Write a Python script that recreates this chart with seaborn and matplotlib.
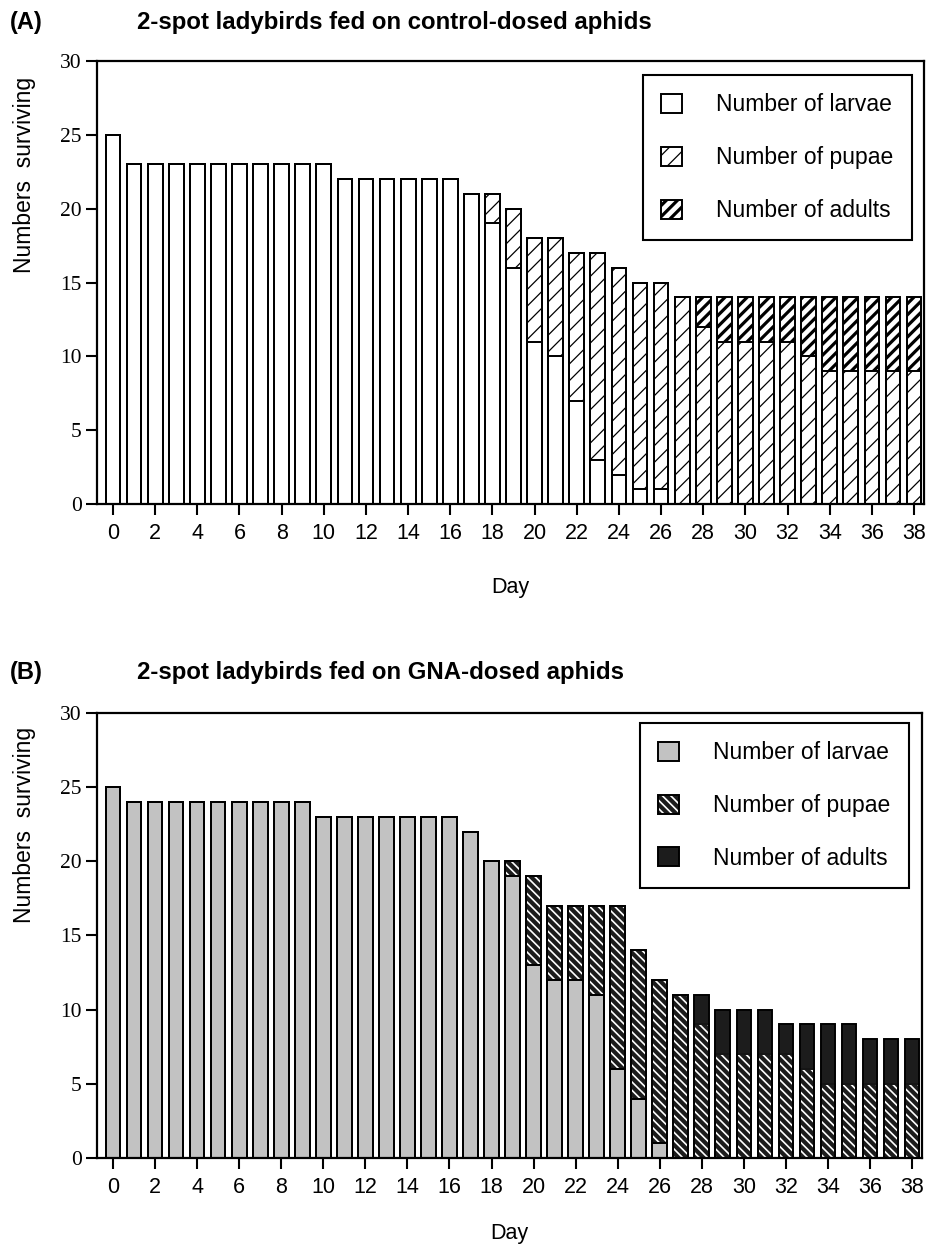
import numpy as np
import pandas as pd
import seaborn as sns
import matplotlib.pyplot as plt
from matplotlib.patches import Patch

# ---------------------------------------------------------
# Data (days 0..38)
# ---------------------------------------------------------
days = list(range(39))

# (A) control-dosed aphids
a_larvae = [25, 23, 23, 23, 23, 23, 23, 23, 23, 23, 23, 22, 22, 22, 22, 22, 22, 21, 19,
            16, 11, 10, 7, 3, 2, 1, 1, 0, 0, 0, 0, 0, 0, 0, 0, 0, 0, 0, 0]
a_pupae = [0, 0, 0, 0, 0, 0, 0, 0, 0, 0, 0, 0, 0, 0, 0, 0, 0, 0, 2,
           4, 7, 8, 10, 14, 14, 14, 14, 14, 12, 11, 11, 11, 11, 10, 9, 9, 9, 9, 9]
a_adults = [0, 0, 0, 0, 0, 0, 0, 0, 0, 0, 0, 0, 0, 0, 0, 0, 0, 0, 0,
            0, 0, 0, 0, 0, 0, 0, 0, 0, 2, 3, 3, 3, 3, 4, 5, 5, 5, 5, 5]

# (B) GNA-dosed aphids
b_larvae = [25, 24, 24, 24, 24, 24, 24, 24, 24, 24, 23, 23, 23, 23, 23, 23, 23, 22, 20,
            19, 13, 12, 12, 11, 6, 4, 1, 0, 0, 0, 0, 0, 0, 0, 0, 0, 0, 0, 0]
b_pupae = [0, 0, 0, 0, 0, 0, 0, 0, 0, 0, 0, 0, 0, 0, 0, 0, 0, 0, 0,
           1, 6, 5, 5, 6, 11, 10, 11, 11, 9, 7, 7, 7, 7, 6, 5, 5, 5, 5, 5]
b_adults = [0, 0, 0, 0, 0, 0, 0, 0, 0, 0, 0, 0, 0, 0, 0, 0, 0, 0, 0,
            0, 0, 0, 0, 0, 0, 0, 0, 0, 2, 3, 3, 3, 2, 3, 4, 4, 3, 3, 3]

legend_labels = ["Number of larvae", "Number of pupae", "Number of adults"]
title_a = "2-spot ladybirds fed on control-dosed aphids"
title_b = "2-spot ladybirds fed on GNA-dosed aphids"


def make_df(larvae, pupae, adults):
    df = pd.DataFrame({"day": days, "larvae": larvae, "pupae": pupae, "adults": adults})
    df["lp"] = df["larvae"] + df["pupae"]
    df["total"] = df["lp"] + df["adults"]
    return df


df_a = make_df(a_larvae, a_pupae, a_adults)
df_b = make_df(b_larvae, b_pupae, b_adults)

# ---------------------------------------------------------
# Styling
# ---------------------------------------------------------
sns.set_style("ticks")
plt.rcParams["font.family"] = ["Liberation Sans", "DejaVu Sans"]
plt.rcParams["hatch.linewidth"] = 1.0
for k in ["text.color", "axes.labelcolor", "xtick.color", "ytick.color", "axes.edgecolor"]:
    plt.rcParams[k] = "black"

ADULT_HATCH, ADULT_HLW = "///", 2.3
PUPA_HATCH, PUPA_HLW = "//", 0.9
GNA_HATCH, GNA_HLW = "\\\\\\\\", 1.2
GREY, DARK = "#c2c2c2", "#1c1c1c"


def set_hlw(p, w):
    if hasattr(p, "set_hatch_linewidth"):
        p.set_hatch_linewidth(w)


def draw_layer(ax, df, col, face, hcol, hatch, hlw):
    n0 = len(ax.patches)
    sns.barplot(data=df, x="day", y=col, native_scale=True, width=0.7,
                color=face, saturation=1, edgecolor=hcol, linewidth=1.2,
                errorbar=None, ax=ax)
    for p in ax.patches[n0:]:
        p.set_facecolor(face)
        p.set_edgecolor(hcol)
        if hatch:
            p.set_hatch(hatch)
            set_hlw(p, hlw)


def outline(ax, df, col):
    sns.barplot(data=df, x="day", y=col, native_scale=True, width=0.7,
                fill=False, color="black", linewidth=1.3, errorbar=None, ax=ax)


def style_axes(ax):
    ax.set_xlim(-0.76, 38.47)
    ax.set_ylim(0, 30)
    ax.set_xticks(range(0, 39, 2))
    ax.set_yticks(range(0, 31, 5))
    for s in ax.spines.values():
        s.set_visible(True)
        s.set_linewidth(1.6)
        s.set_color("black")
    ax.tick_params(direction="out", length=8, width=1.5, colors="black")
    ax.tick_params(axis="x", labelsize=15.5, pad=6)
    ax.tick_params(axis="y", labelsize=15.5, pad=3)
    for t in ax.get_yticklabels():
        t.set_fontfamily("Liberation Serif")
    ax.set_ylabel("")
    ax.set_xlabel("Day", fontsize=15.5)


def add_legend(ax, handles, anchor):
    leg = ax.legend(handles, legend_labels, loc="upper right", bbox_to_anchor=anchor,
                    borderaxespad=0, fontsize=16.5, labelspacing=1.3, handlelength=0.9,
                    handleheight=0.9, handletextpad=1.5, borderpad=0.8,
                    fancybox=False, framealpha=1, edgecolor="black")
    leg.get_frame().set_linewidth(1.5)
    return leg


fig = plt.figure(figsize=(9.3, 12.47), dpi=100)
ax_a = fig.add_axes([0.1043, 0.5958, 0.8892, 0.3553])
ax_b = fig.add_axes([0.1043, 0.0714, 0.8871, 0.3569])

# ---------------------------------------------------------
# Panel A
# ---------------------------------------------------------
draw_layer(ax_a, df_a, "total", "white", "black", ADULT_HATCH, ADULT_HLW)
draw_layer(ax_a, df_a, "lp", "white", "black", PUPA_HATCH, PUPA_HLW)
draw_layer(ax_a, df_a, "larvae", "white", "black", None, 1.0)
for c in ["total", "lp", "larvae"]:
    outline(ax_a, df_a, c)
style_axes(ax_a)
ax_a.xaxis.set_label_coords(0.5, -0.165)

h_a = [Patch(facecolor="white", edgecolor="black", linewidth=1.4),
       Patch(facecolor="white", edgecolor="black", hatch=PUPA_HATCH, linewidth=1.4),
       Patch(facecolor="white", edgecolor="black", hatch=ADULT_HATCH, linewidth=1.4)]
leg = add_legend(ax_a, h_a, (0.9855, 0.968))
lh = leg.legend_handles
set_hlw(lh[1], PUPA_HLW)
set_hlw(lh[2], ADULT_HLW)

# ---------------------------------------------------------
# Panel B
# ---------------------------------------------------------
draw_layer(ax_b, df_b, "total", DARK, DARK, None, 1.0)
draw_layer(ax_b, df_b, "lp", DARK, "white", GNA_HATCH, GNA_HLW)
draw_layer(ax_b, df_b, "larvae", GREY, "black", None, 1.0)
for c in ["total", "lp", "larvae"]:
    outline(ax_b, df_b, c)
style_axes(ax_b)
ax_b.xaxis.set_label_coords(0.5, -0.146)

pupae_fill = Patch(facecolor=DARK, edgecolor="white", hatch=GNA_HATCH, linewidth=0)
h_b = [Patch(facecolor=GREY, edgecolor="black", linewidth=1.4),
       (pupae_fill, Patch(fill=False, edgecolor="black", linewidth=1.4)),
       Patch(facecolor=DARK, edgecolor="black", linewidth=1.4)]
leg = add_legend(ax_b, h_b, (0.984, 0.9775))
for h in leg.legend_handles:
    if h is not None and h.get_hatch():
        set_hlw(h, GNA_HLW)

# ---------------------------------------------------------
# Titles and y labels
# ---------------------------------------------------------
for y, tag, title in [(22, "(A)", title_a), (672, "(B)", title_b)]:
    fig.text(10 / 930, 1 - y / 1247, tag, fontsize=17, fontweight="bold", va="center")
    fig.text(137 / 930, 1 - y / 1247, title, fontsize=17.3, fontweight="bold", va="center")

fig.text(25 / 930, 1 - 175 / 1247, "Numbers  surviving", rotation=90, fontsize=16.5,
         ha="center", va="center")
fig.text(25 / 930, 1 - 825 / 1247, "Numbers  surviving", rotation=90, fontsize=16.5,
         ha="center", va="center")

fig.savefig("out.png", dpi=100)
plt.close(fig)
